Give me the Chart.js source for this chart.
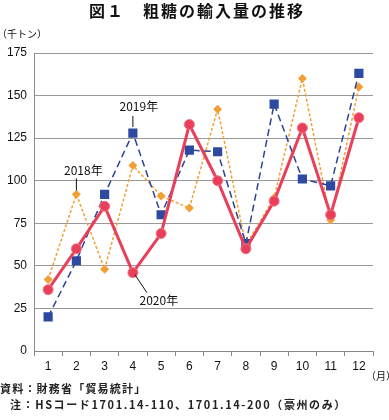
<!DOCTYPE html>
<html>
<head>
<meta charset="utf-8">
<script src="https://cdn.jsdelivr.net/npm/chart.js@4.4.1/dist/chart.umd.min.js"></script>
<style>
  body { margin: 0; background: #fff; }
  #wrap { width: 389px; height: 420px; }
</style>
</head>
<body>
<div id="wrap"><canvas id="myChart" width="389" height="420"></canvas></div>
<script>
var months = ["1", "2", "3", "4", "5", "6", "7", "8", "9", "10", "11", "12"];
var yTicks = [0, 25, 50, 75, 100, 125, 150, 175];
var y2018 = [42, 92, 48, 109, 91, 84, 142, 62, 90, 160, 77, 155];
var y2019 = [20, 53, 92, 128, 80, 118, 117, 63, 145, 101, 97, 163];
var y2020 = [36, 60, 85, 46, 69, 133, 100, 60, 88, 131, 80, 137];

var jp = "'Noto Sans CJK JP', sans-serif";
var num = "'Liberation Sans', Arial, sans-serif";

// 図のタイトル・注記・系列ラベル
const textPlugin = {
    id: "texts",
    afterDraw: function (chart) {
        var c = chart.ctx, x = chart.scales.x, y = chart.scales.y;
        c.save();
        c.fillStyle = "#111";
        c.textBaseline = "middle";
        c.textAlign = "center";
        c.font = "bold 16px " + jp;
        c.letterSpacing = "2px";
        c.fillText("図１　粗糖の輸入量の推移", 197, 11);
        c.letterSpacing = "0px";

        c.textAlign = "left";
        c.font = "10px " + jp;
        c.fillText("（千トン）", -3, 34);
        c.fillText("（月）", 366, 376);

        c.font = "bold 11px " + jp;
        c.fillStyle = "#222";
        c.letterSpacing = "1.2px";
        c.fillText("資料：財務省「貿易統計」", 0, 389);
        c.letterSpacing = "1.6px";
        c.fillText("注：HSコード1701.14-110、1701.14-200（豪州のみ）", 10, 405);
        c.letterSpacing = "0px";

        // 系列ラベルと引き出し線
        c.fillStyle = "#111";
        c.strokeStyle = "#111";
        c.lineWidth = 1;
        c.font = "12px " + jp;
        c.textAlign = "center";

        var px = x.getPixelForValue(3), py = y.getPixelForValue(y2019[3]);
        c.fillText("2019年", px + 6, py - 27);
        c.beginPath(); c.moveTo(px, py - 17); c.lineTo(px, py - 6); c.stroke();

        px = x.getPixelForValue(1); py = y.getPixelForValue(y2018[1]);
        c.fillText("2018年", px + 7, py - 24);
        c.beginPath(); c.moveTo(px, py - 16); c.lineTo(px, py - 4); c.stroke();

        px = x.getPixelForValue(3); py = y.getPixelForValue(y2020[3]);
        c.fillText("2020年", px + 26, py + 28);
        c.beginPath(); c.moveTo(px + 2, py + 2); c.lineTo(px + 14, py + 20); c.stroke();
        c.restore();
    }
};

var data = {
    labels: months,
    datasets: [
        {
            label: "2020年",
            data: y2020,
            borderColor: "#e8405a",
            borderWidth: 3,
            pointStyle: "circle",
            pointRadius: 5,
            pointBackgroundColor: "#e8405a",
            pointBorderColor: "#f27386",
            pointBorderWidth: 1,
            order: 1
        },
        {
            label: "2019年",
            data: y2019,
            borderColor: "#2a4394",
            borderWidth: 1.5,
            borderDash: [7, 4],
            pointStyle: "rect",
            pointRadius: 6.5,
            pointBackgroundColor: "#2e4aa0",
            pointBorderColor: "#2e4aa0",
            pointBorderWidth: 0,
            order: 2
        },
        {
            label: "2018年",
            data: y2018,
            borderColor: "#f0a034",
            borderWidth: 1.5,
            borderDash: [3, 2],
            pointStyle: "rectRot",
            pointRadius: 4.5,
            pointBackgroundColor: "#f0a034",
            pointBorderColor: "#f0a034",
            pointBorderWidth: 0,
            order: 3
        }
    ]
};

var config = {
    type: "line",
    data: data,
    options: {
        responsive: false,
        animation: false,
        layout: { padding: { left: 0, right: 16, top: 53, bottom: 49 } },
        plugins: { legend: { display: false }, title: { display: false }, tooltip: { enabled: false } },
        elements: { line: { tension: 0 } },
        scales: {
            x: {
                offset: true,
                grid: { display: true, drawOnChartArea: false, drawTicks: true, tickLength: 5, offset: true, color: "#888" },
                border: { color: "#888" },
                ticks: { color: "#111", font: { family: num, size: 12 }, padding: 3, maxRotation: 0 },
                afterFit: function (s) { s.height = 20; }
            },
            y: {
                min: 0,
                max: 175,
                afterBuildTicks: function (s) { s.ticks = yTicks.map(function (v) { return { value: v }; }); },
                grid: { color: "#999", drawTicks: false },
                border: { color: "#888" },
                ticks: { color: "#111", font: { family: num, size: 12 }, padding: 7 },
                afterFit: function (s) { s.width = 34; }
            }
        }
    },
    plugins: [textPlugin]
};

var ctx = document.getElementById("myChart").getContext("2d");
new Chart(ctx, config);
</script>
</body>
</html>
